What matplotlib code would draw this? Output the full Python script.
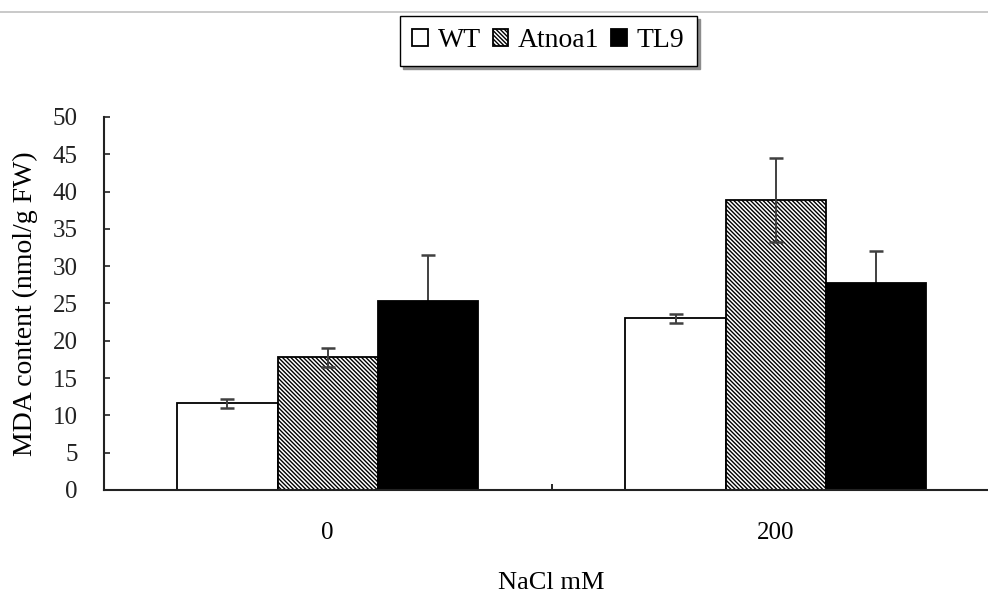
import numpy as np
import matplotlib
matplotlib.use("Agg")
import matplotlib.pyplot as plt
from matplotlib.lines import Line2D

# NaCl treatment groups and MDA content per line (mean, error)
GROUPS = ["0", "200"]
LINES = ["WT", "Atnoa1", "TL9"]
WT = [11.6, 23.0]
WT_ERR = [0.6, 0.6]
ATNOA1 = [17.8, 38.9]
ATNOA1_ERR = [1.3, 5.6]
TL9 = [25.3, 27.7]
TL9_ERR = [6.2, 4.4]

plt.rcParams["font.family"] = ["Liberation Serif", "DejaVu Serif"]
plt.rcParams["hatch.linewidth"] = 1.0


def main():
    fig = plt.figure(figsize=(9.88, 5.93), dpi=100)
    ax = fig.add_axes([0.1048, 0.1737, 0.9072, 0.629])

    x = np.arange(len(GROUPS))
    w = 0.2236
    styles = [dict(color="white", hatch=None, ez=3),
              dict(color="white", hatch="\\" * 8, ez=3),
              dict(color="black", hatch=None, ez=1)]  # black bar hides lower whisker
    series = [(WT, WT_ERR), (ATNOA1, ATNOA1_ERR), (TL9, TL9_ERR)]
    handles = []
    for k, ((vals, errs), st, name) in enumerate(zip(series, styles, LINES)):
        b = ax.bar(x + (k - 1) * w, vals, w, color=st["color"], hatch=st["hatch"],
                   edgecolor="black", linewidth=1.3, label=name, zorder=2)
        ax.errorbar(x + (k - 1) * w, vals, yerr=errs, fmt="none", ecolor="0.25",
                    elinewidth=1.4, capsize=5.2, capthick=1.8, zorder=st["ez"])
        handles.append(b)

    ax.set_xlim(-0.5, 1.5)
    ax.set_ylim(0, 50)
    ax.set_yticks(range(0, 51, 5))
    ax.set_xticks(x)
    ax.set_xticklabels(GROUPS)
    ax.set_xticks([-0.5, 0.5, 1.5], minor=True)
    ax.tick_params(axis="y", direction="in", length=4.3, width=1.2,
                   labelsize=18, pad=18.5, colors="#222222")
    ax.tick_params(axis="x", which="major", length=0, labelsize=18, pad=23)
    ax.tick_params(axis="x", which="minor", direction="in", length=4, width=1.2)

    for s in ("top", "right"):
        ax.spines[s].set_visible(False)
    for s in ("left", "bottom"):
        ax.spines[s].set_linewidth(1.5)
        ax.spines[s].set_color("#222222")

    ax.set_ylabel("MDA content (nmol/g FW)", fontsize=20, labelpad=11)
    ax.set_xlabel("NaCl mM", fontsize=19, labelpad=20)

    fig.legend(handles=handles, labels=LINES, loc="center",
               bbox_to_anchor=(0.555, 0.931), ncol=3, fontsize=20,
               frameon=True, fancybox=False, edgecolor="black",
               framealpha=1, handlelength=0.55, handleheight=0.55,
               handletextpad=0.36, columnspacing=0.43, borderpad=0.45,
               shadow={"color": "0.55", "alpha": 1})

    # thin grey rule across the top of the picture
    fig.add_artist(Line2D([0, 1], [1 - 12 / 593, 1 - 12 / 593],
                          transform=fig.transFigure, color="#c0c0c0", lw=1.2))

    fig.savefig("out.png", dpi=100)


if __name__ == "__main__":
    main()
